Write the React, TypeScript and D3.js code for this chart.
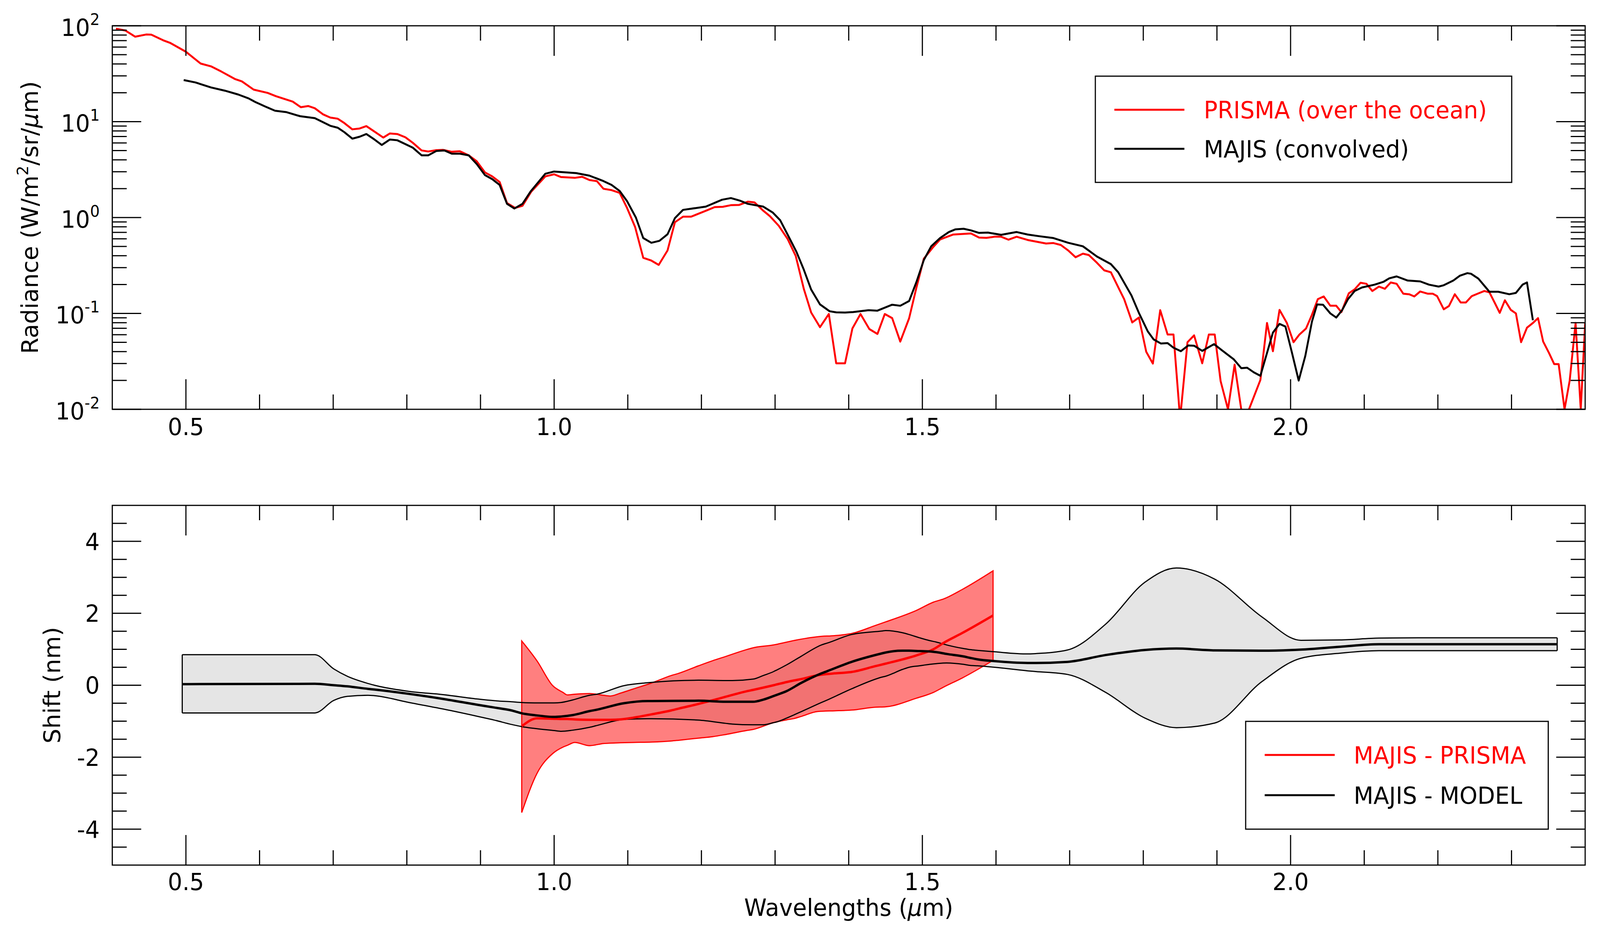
import React from "react";
import * as d3 from "d3";

// ---------- Top panel data (wavelength µm, log10 radiance) ----------
const prismaWl = [0.405,0.418,0.431,0.446,0.453,0.469,0.479,0.5,0.52,0.534,0.548,0.567,0.576,0.592,0.611,0.622,0.645,0.656,0.666,0.675,0.686,0.696,0.706,0.715,0.726,0.736,0.745,0.756,0.768,0.777,0.787,0.798,0.808,0.82,0.829,0.84,0.849,0.861,0.872,0.884,0.895,0.906,0.916,0.926,0.936,0.947,0.957,0.969,0.988,1.0,1.009,1.028,1.038,1.048,1.058,1.067,1.078,1.089,1.099,1.11,1.121,1.132,1.142,1.154,1.164,1.175,1.186,1.208,1.218,1.229,1.24,1.251,1.263,1.272,1.284,1.293,1.305,1.317,1.328,1.339,1.349,1.361,1.373,1.383,1.395,1.405,1.416,1.428,1.439,1.449,1.459,1.47,1.482,1.492,1.502,1.514,1.524,1.542,1.566,1.577,1.587,1.598,1.607,1.617,1.628,1.643,1.668,1.678,1.688,1.698,1.708,1.718,1.726,1.737,1.747,1.756,1.767,1.774,1.785,1.794,1.804,1.813,1.823,1.833,1.841,1.85,1.86,1.869,1.88,1.889,1.897,1.905,1.915,1.924,1.933,1.941,1.959,1.968,1.976,1.985,1.995,2.004,2.012,2.021,2.029,2.037,2.045,2.054,2.062,2.069,2.079,2.087,2.095,2.103,2.111,2.12,2.128,2.136,2.144,2.153,2.161,2.168,2.176,2.186,2.193,2.199,2.208,2.215,2.223,2.231,2.238,2.246,2.255,2.263,2.27,2.277,2.284,2.291,2.299,2.306,2.313,2.321,2.329,2.336,2.343,2.351,2.358,2.364,2.372,2.379,2.387,2.394,2.4];
const prismaLog = [1.97,1.95,1.886,1.909,1.907,1.849,1.82,1.729,1.606,1.577,1.523,1.443,1.42,1.334,1.3,1.266,1.209,1.151,1.163,1.14,1.077,1.043,1.031,0.986,0.92,0.929,0.954,0.897,0.834,0.877,0.871,0.837,0.78,0.7,0.689,0.703,0.706,0.686,0.691,0.649,0.586,0.471,0.429,0.371,0.151,0.1,0.123,0.271,0.429,0.451,0.423,0.414,0.425,0.391,0.38,0.3,0.286,0.257,0.1,-0.1,-0.42,-0.449,-0.494,-0.343,-0.049,0.009,0.009,0.077,0.109,0.112,0.129,0.131,0.166,0.158,0.071,0.014,-0.086,-0.223,-0.4,-0.743,-0.991,-1.143,-1.006,-1.52,-1.52,-1.157,-1.006,-1.163,-1.214,-1.006,-1.049,-1.294,-1.051,-0.729,-0.429,-0.314,-0.229,-0.177,-0.166,-0.209,-0.212,-0.2,-0.2,-0.231,-0.2,-0.234,-0.271,-0.266,-0.286,-0.343,-0.414,-0.377,-0.391,-0.471,-0.551,-0.571,-0.743,-0.851,-1.094,-1.043,-1.4,-1.523,-0.966,-1.22,-1.22,-2.1,-1.3,-1.229,-1.52,-1.22,-1.22,-1.706,-2.0,-1.534,-2.0,-2.05,-1.694,-1.1,-1.394,-0.963,-1.1,-1.3,-1.22,-1.157,-1.014,-0.851,-0.823,-0.92,-0.92,-0.986,-0.791,-0.749,-0.68,-0.691,-0.766,-0.72,-0.743,-0.677,-0.691,-0.794,-0.8,-0.823,-0.771,-0.794,-0.794,-0.82,-0.957,-0.923,-0.8,-0.886,-0.886,-0.82,-0.791,-0.766,-0.78,-0.886,-0.994,-0.863,-0.963,-1.0,-1.3,-1.149,-1.1,-1.049,-1.294,-1.414,-1.529,-1.529,-2.0,-1.7,-1.1,-2.0,-1.1];

const majisWl = [0.497,0.513,0.534,0.553,0.571,0.585,0.594,0.608,0.621,0.636,0.655,0.675,0.696,0.706,0.715,0.726,0.736,0.745,0.756,0.766,0.777,0.787,0.808,0.82,0.829,0.84,0.851,0.861,0.872,0.884,0.895,0.906,0.916,0.926,0.936,0.946,0.957,0.968,0.988,1.0,1.03,1.048,1.067,1.078,1.089,1.099,1.111,1.121,1.132,1.143,1.154,1.164,1.175,1.206,1.228,1.24,1.252,1.263,1.284,1.297,1.307,1.317,1.329,1.339,1.349,1.361,1.374,1.383,1.395,1.406,1.427,1.439,1.459,1.47,1.482,1.492,1.502,1.512,1.524,1.536,1.545,1.556,1.566,1.577,1.589,1.607,1.628,1.643,1.658,1.678,1.698,1.718,1.737,1.756,1.766,1.784,1.794,1.806,1.814,1.824,1.833,1.841,1.851,1.861,1.869,1.88,1.896,1.906,1.923,1.933,1.941,1.95,1.959,1.976,1.985,1.993,2.002,2.011,2.02,2.029,2.036,2.044,2.054,2.062,2.07,2.078,2.087,2.097,2.114,2.126,2.134,2.144,2.159,2.176,2.188,2.201,2.208,2.221,2.23,2.24,2.245,2.255,2.27,2.282,2.297,2.306,2.315,2.321,2.329];
const majisLog = [1.434,1.409,1.357,1.323,1.283,1.243,1.206,1.157,1.114,1.1,1.057,1.037,0.957,0.937,0.891,0.823,0.843,0.871,0.814,0.757,0.814,0.806,0.729,0.649,0.649,0.694,0.7,0.666,0.666,0.649,0.557,0.443,0.4,0.34,0.143,0.094,0.143,0.271,0.457,0.48,0.463,0.437,0.38,0.34,0.277,0.171,0,-0.214,-0.263,-0.243,-0.174,-0.006,0.08,0.114,0.186,0.203,0.177,0.143,0.114,0.051,-0.029,-0.177,-0.357,-0.543,-0.751,-0.906,-0.977,-0.989,-0.991,-0.986,-0.966,-0.971,-0.909,-0.92,-0.871,-0.671,-0.443,-0.3,-0.214,-0.151,-0.123,-0.117,-0.134,-0.16,-0.157,-0.18,-0.151,-0.177,-0.194,-0.214,-0.263,-0.3,-0.406,-0.486,-0.571,-0.814,-0.994,-1.186,-1.271,-1.314,-1.31,-1.357,-1.394,-1.334,-1.337,-1.391,-1.32,-1.38,-1.48,-1.571,-1.566,-1.614,-1.651,-1.2,-1.109,-1.137,-1.414,-1.7,-1.443,-1.086,-0.906,-0.909,-1.0,-1.043,-0.966,-0.851,-0.766,-0.729,-0.7,-0.671,-0.634,-0.614,-0.657,-0.666,-0.7,-0.72,-0.706,-0.657,-0.606,-0.58,-0.586,-0.637,-0.774,-0.774,-0.8,-0.786,-0.7,-0.677,-1.071];

// ---------- Bottom panel data (wavelength µm, shift nm) ----------
const modelWl =    [0.495,0.675,0.701,0.719,0.747,0.756,0.803,0.849,0.895,0.919,0.942,0.956,0.973,1.0,1.009,1.025,1.048,1.058,1.095,1.127,1.132,1.196,1.233,1.242,1.27,1.284,1.298,1.302,1.316,1.335,1.363,1.372,1.404,1.446,1.45,1.473,1.482,1.496,1.51,1.519,1.533,1.556,1.565,1.575,1.598,1.643,1.654,1.697,1.749,1.802,1.845,1.897,1.961,2.014,2.067,2.12,2.173,2.362];
const modelMid =   [0.03,0.04,0.0,-0.03,-0.1,-0.12,-0.24,-0.38,-0.54,-0.62,-0.7,-0.78,-0.83,-0.88,-0.87,-0.83,-0.72,-0.68,-0.5,-0.44,-0.44,-0.43,-0.46,-0.46,-0.46,-0.4,-0.3,-0.27,-0.16,0.06,0.33,0.4,0.65,0.89,0.91,0.96,0.96,0.95,0.94,0.92,0.87,0.8,0.76,0.72,0.67,0.62,0.62,0.65,0.84,0.98,1.02,0.97,0.96,0.99,1.07,1.14,1.14,1.14];
const modelUpper = [0.85,0.85,0.45,0.25,0.05,0.0,-0.17,-0.26,-0.38,-0.43,-0.46,-0.48,-0.49,-0.49,-0.48,-0.41,-0.28,-0.25,-0.01,0.07,0.08,0.14,0.13,0.13,0.17,0.27,0.38,0.42,0.57,0.8,1.12,1.18,1.41,1.51,1.52,1.46,1.41,1.32,1.24,1.2,1.12,1.02,0.99,0.97,0.93,0.87,0.88,0.98,1.7,2.86,3.26,2.95,1.9,1.25,1.26,1.31,1.32,1.32];
const modelLower = [-0.77,-0.77,-0.42,-0.31,-0.28,-0.29,-0.48,-0.66,-0.86,-0.97,-1.09,-1.15,-1.2,-1.26,-1.28,-1.25,-1.17,-1.12,-0.95,-0.93,-0.93,-0.97,-1.06,-1.08,-1.1,-1.1,-1.04,-1.02,-0.91,-0.74,-0.48,-0.4,-0.1,0.23,0.25,0.44,0.5,0.54,0.58,0.6,0.62,0.58,0.55,0.54,0.5,0.4,0.38,0.3,-0.2,-0.91,-1.18,-1.05,0.1,0.75,0.89,0.96,0.96,0.96];

const prismaShiftWl =    [0.956,0.977,0.998,1.012,1.018,1.028,1.048,1.067,1.076,1.09,1.108,1.132,1.159,1.169,1.196,1.215,1.233,1.261,1.27,1.298,1.316,1.325,1.335,1.358,1.381,1.395,1.404,1.436,1.45,1.492,1.515,1.529,1.554,1.596];
const prismaShiftMid =   [-1.14,-0.92,-0.93,-0.94,-0.94,-0.95,-0.96,-0.96,-0.96,-0.95,-0.9,-0.81,-0.7,-0.65,-0.52,-0.42,-0.32,-0.17,-0.13,0.0,0.09,0.13,0.17,0.28,0.33,0.35,0.37,0.53,0.6,0.83,1.0,1.18,1.45,1.94];
const prismaShiftUpper = [1.23,0.67,-0.01,-0.2,-0.27,-0.25,-0.23,-0.28,-0.3,-0.22,-0.1,0.06,0.27,0.33,0.54,0.68,0.8,0.99,1.04,1.12,1.2,1.24,1.28,1.35,1.38,1.41,1.44,1.66,1.76,2.08,2.31,2.4,2.66,3.18];
const prismaShiftLower = [-3.54,-2.44,-1.9,-1.72,-1.67,-1.59,-1.68,-1.62,-1.61,-1.6,-1.59,-1.58,-1.55,-1.53,-1.47,-1.43,-1.37,-1.26,-1.23,-1.04,-0.96,-0.93,-0.87,-0.73,-0.71,-0.7,-0.69,-0.61,-0.6,-0.36,-0.2,-0.05,0.2,0.69];

const xTickLabels = ["0.5", "1.0", "1.5", "2.0"];
const shiftTicks = [-4, -2, 0, 2, 4];
const logExps = [-2, -1, 0, 1, 2];

const W = 4204, H = 2394;
const X0 = 295, X1 = 4165;
const T = { top: 66, bottom: 1048 };
const B = { top: 1294, bottom: 2215 };
const FONT = "DejaVu Sans, sans-serif";
const FS = 60;

export default function App() {
  const x = d3.scaleLinear().domain([0.4, 2.4]).range([X0, X1]);
  const yT = d3.scaleLog().domain([1e-2, 1e2]).range([T.bottom, T.top]);
  const yB = d3.scaleLinear().domain([-5, 5]).range([B.bottom, B.top]);

  const lineT = d3.line<[number, number]>().x(d => x(d[0])).y(d => yT(Math.pow(10, d[1])));
  const prismaPts = prismaWl.map((w, i) => [w, prismaLog[i]] as [number, number]);
  const majisPts = majisWl.map((w, i) => [w, majisLog[i]] as [number, number]);

  const curve = d3.curveMonotoneX;
  const lineB = d3.line<number>().curve(curve);

  const modelArea = d3.area<number>().curve(curve)
    .x((_, i) => x(modelWl[i])).y0((_, i) => yB(modelLower[i])).y1((_, i) => yB(modelUpper[i]))(modelWl);
  const prismaArea = d3.area<number>().curve(curve)
    .x((_, i) => x(prismaShiftWl[i])).y0((_, i) => yB(prismaShiftLower[i])).y1((_, i) => yB(prismaShiftUpper[i]))(prismaShiftWl);
  const mk = (xs: number[], ys: number[]) => lineB.x((_, i) => x(xs[i])).y((_, i) => yB(ys[i]))(xs) as string;

  const minorX = d3.range(0.5, 2.4, 0.1).map(v => +v.toFixed(2));
  const majorX = xTickLabels.map(Number);

  const xTicks = (p: { top: number; bottom: number }) => (
    <g stroke="#000" strokeWidth={3}>
      {minorX.map(v => {
        const major = majorX.some(m => Math.abs(m - v) < 1e-6);
        const L = major ? 77 : 38;
        return (
          <g key={v}>
            <line x1={x(v)} x2={x(v)} y1={p.bottom} y2={p.bottom - L} />
            <line x1={x(v)} x2={x(v)} y1={p.top} y2={p.top + L} />
          </g>
        );
      })}
    </g>
  );

  const logMinor: number[] = [];
  for (let e = -2; e < 2; e++) for (let k = 2; k <= 9; k++) logMinor.push(k * Math.pow(10, e));
  const shiftMinor = d3.range(-4.5, 5, 0.5).filter(v => Math.abs(v % 2) > 1e-6);

  return (
    <svg viewBox={`0 0 ${W} ${H}`} preserveAspectRatio="none"
      style={{ display: "block", background: "#fff", position: "fixed", left: 0, top: 0, width: "100vw", height: "100vh" }}
      fontFamily={FONT}>
      <defs>
        <clipPath id="clipT"><rect x={X0} y={T.top} width={X1 - X0} height={T.bottom - T.top} /></clipPath>
        <clipPath id="clipB"><rect x={X0} y={B.top} width={X1 - X0} height={B.bottom - B.top} /></clipPath>
      </defs>

      {/* ---------- Top panel ---------- */}
      <g clipPath="url(#clipT)" fill="none" strokeWidth={5} strokeLinejoin="round">
        <path d={lineT(prismaPts) as string} stroke="#ff0000" />
        <path d={lineT(majisPts) as string} stroke="#000" />
      </g>
      <rect x={X0} y={T.top} width={X1 - X0} height={T.bottom - T.top} fill="none" stroke="#000" strokeWidth={3} />
      {xTicks(T)}
      <g stroke="#000" strokeWidth={3}>
        {logExps.map(e => (
          <g key={e}>
            <line x1={X0} x2={X0 + 76} y1={yT(Math.pow(10, e))} y2={yT(Math.pow(10, e))} />
            <line x1={X1} x2={X1 - 76} y1={yT(Math.pow(10, e))} y2={yT(Math.pow(10, e))} />
          </g>
        ))}
        {logMinor.map(v => (
          <g key={v}>
            <line x1={X0} x2={X0 + 38} y1={yT(v)} y2={yT(v)} />
            <line x1={X1} x2={X1 - 38} y1={yT(v)} y2={yT(v)} />
          </g>
        ))}
      </g>
      <g fontSize={FS} fill="#000">
        {logExps.map(e => (
          <text key={e} x={262} y={yT(Math.pow(10, e)) + 26} textAnchor="end">
            10<tspan fontSize={40} dy={-28}>{e}</tspan>
          </text>
        ))}
        {xTickLabels.map(t => (
          <text key={t} x={x(+t)} y={1114} textAnchor="middle">{t}</text>
        ))}
        <text transform={`translate(100,${(T.top + T.bottom) / 2}) rotate(-90)`} textAnchor="middle">
          Radiance (W/m<tspan fontSize={40} dy={-26}>2</tspan><tspan dy={26}>/sr/</tspan><tspan fontStyle="italic">μ</tspan>m)
        </text>
      </g>
      {/* top legend */}
      <g>
        <rect x={2878} y={195} width={1094} height={272} fill="#fff" stroke="#000" strokeWidth={3} />
        <line x1={2928} x2={3112} y1={281} y2={281} stroke="#ff0000" strokeWidth={5} />
        <line x1={2928} x2={3112} y1={381} y2={381} stroke="#000" strokeWidth={5} />
        <text x={3163} y={303} fontSize={FS} fill="#ff0000">PRISMA (over the ocean)</text>
        <text x={3163} y={403} fontSize={FS} fill="#000">MAJIS (convolved)</text>
      </g>

      {/* ---------- Bottom panel ---------- */}
      <g clipPath="url(#clipB)">
        <path d={modelArea as string} fill="#e5e5e5" stroke="none" />
        <path d={prismaArea as string} fill="#ff0000" fillOpacity={0.5} stroke="#ff0000" strokeWidth={3} />
        <g fill="none" strokeLinejoin="round">
          <path d={mk(modelWl, modelUpper)} stroke="#000" strokeWidth={3} />
          <path d={mk(modelWl, modelLower)} stroke="#000" strokeWidth={3} />
          <line x1={x(modelWl[0])} x2={x(modelWl[0])} y1={yB(modelLower[0])} y2={yB(modelUpper[0])} stroke="#000" strokeWidth={3} />
          <line x1={x(modelWl[modelWl.length - 1])} x2={x(modelWl[modelWl.length - 1])} y1={yB(modelLower[modelLower.length - 1])} y2={yB(modelUpper[modelUpper.length - 1])} stroke="#000" strokeWidth={3} />
          <path d={mk(prismaShiftWl, prismaShiftMid)} stroke="#ff0000" strokeWidth={6} />
          <path d={mk(modelWl, modelMid)} stroke="#000" strokeWidth={6} />
        </g>
      </g>
      <rect x={X0} y={B.top} width={X1 - X0} height={B.bottom - B.top} fill="none" stroke="#000" strokeWidth={3} />
      {xTicks(B)}
      <g stroke="#000" strokeWidth={3}>
        {shiftTicks.map(v => (
          <g key={v}>
            <line x1={X0} x2={X0 + 76} y1={yB(v)} y2={yB(v)} />
            <line x1={X1} x2={X1 - 76} y1={yB(v)} y2={yB(v)} />
          </g>
        ))}
        {shiftMinor.map(v => (
          <g key={v}>
            <line x1={X0} x2={X0 + 38} y1={yB(v)} y2={yB(v)} />
            <line x1={X1} x2={X1 - 38} y1={yB(v)} y2={yB(v)} />
          </g>
        ))}
      </g>
      <g fontSize={FS} fill="#000">
        {shiftTicks.map(v => (
          <text key={v} x={262} y={yB(v) + 22} textAnchor="end">{String(v)}</text>
        ))}
        {xTickLabels.map(t => (
          <text key={t} x={x(+t)} y={2279} textAnchor="middle">{t}</text>
        ))}
        <text transform={`translate(158,${(B.top + B.bottom) / 2}) rotate(-90)`} textAnchor="middle">Shift (nm)</text>
        <text x={(X0 + X1) / 2} y={2345} textAnchor="middle">
          Wavelengths (<tspan fontStyle="italic">μ</tspan>m)
        </text>
      </g>
      {/* bottom legend */}
      <g>
        <rect x={3273} y={1847} width={795} height={276} fill="#fff" stroke="#000" strokeWidth={3} />
        <line x1={3323} x2={3507} y1={1933} y2={1933} stroke="#ff0000" strokeWidth={5} />
        <line x1={3323} x2={3507} y1={2036} y2={2036} stroke="#000" strokeWidth={5} />
        <text x={3557} y={1955} fontSize={FS} fill="#ff0000">MAJIS - PRISMA</text>
        <text x={3557} y={2058} fontSize={FS} fill="#000">MAJIS - MODEL</text>
      </g>
    </svg>
  );
}
